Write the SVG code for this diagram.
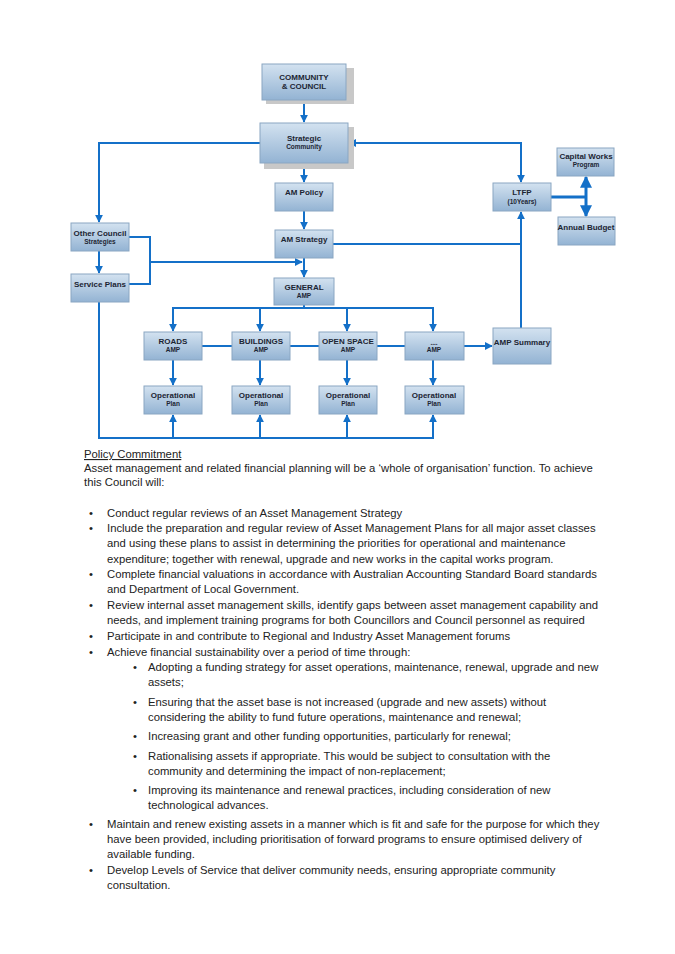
<svg xmlns="http://www.w3.org/2000/svg" width="675" height="954" viewBox="0 0 675 954">
<style>
.n rect.b{fill:url(#g);stroke:#8aa6c2;stroke-width:1}
.n rect.s{fill:#c8c8c8}
.n text{font-family:"Liberation Sans",Arial,sans-serif;font-weight:bold;fill:#1c2533;text-anchor:middle}
.t1{font-size:8px}.t2{font-size:6.5px}
#conn path{fill:none;stroke:#1470c8;stroke-width:2}
.p{font-family:"Liberation Sans",Arial,sans-serif;font-size:11.3px;fill:#222}
</style>
<defs>
<linearGradient id="g" x1="0" y1="0" x2="0" y2="1"><stop offset="0" stop-color="#d3e2f0"/><stop offset="1" stop-color="#93b3d3"/></linearGradient>
<marker id="a" viewBox="0 0 10 10" refX="9" refY="5" markerWidth="4" markerHeight="4" orient="auto-start-reverse"><path d="M0,0L10,5L0,10z" fill="#1470c8"/></marker>
</defs>
<rect width="675" height="954" fill="#fff"/>
<g id="conn">
<path d="M304,100V122" marker-end="url(#a)"/>
<path d="M261,143H99V222" marker-end="url(#a)"/>
<path d="M349,143H521V182" marker-start="url(#a)" marker-end="url(#a)"/>
<path d="M304,167V182" marker-end="url(#a)"/>
<path d="M304,211V229" marker-end="url(#a)"/>
<path d="M304,258V277" marker-end="url(#a)"/>
<path d="M333,244H521"/>
<path d="M521,328V212" marker-end="url(#a)"/>
<path d="M551,197H586" style="stroke-width:3"/>
<path d="M586,197V177" marker-end="url(#a)" style="stroke-width:3"/>
<path d="M586,197V216" marker-end="url(#a)" style="stroke-width:3"/>
<path d="M129,237H150V284H129"/>
<path d="M150,262H302" marker-end="url(#a)"/>
<path d="M99,251V273" marker-end="url(#a)"/>
<path d="M304,305V308H173V331" marker-end="url(#a)"/>
<path d="M304,308H433V331" marker-end="url(#a)"/>
<path d="M260,308V331" marker-end="url(#a)"/>
<path d="M347,308V331" marker-end="url(#a)"/>
<path d="M202,346H464"/>
<path d="M464,346H492" marker-end="url(#a)"/>
<path d="M173,360V385" marker-end="url(#a)"/>
<path d="M260,360V385" marker-end="url(#a)"/>
<path d="M347,360V385" marker-end="url(#a)"/>
<path d="M433,360V385" marker-end="url(#a)"/>
<path d="M99,302V438H433V415" marker-end="url(#a)"/>
<path d="M173,438V415" marker-end="url(#a)"/>
<path d="M260,438V415" marker-end="url(#a)"/>
<path d="M347,438V415" marker-end="url(#a)"/>
</g>
<g id="community" class="n"><rect class="s" x="266" y="68" width="88" height="36"/><rect class="b" x="262" y="64" width="84" height="36"/><text class="t1" x="304" y="80">COMMUNITY</text><text class="t1" x="304" y="89">&amp; COUNCIL</text></g>
<g id="strategic" class="n"><rect class="s" x="264" y="127" width="90" height="42"/><rect class="b" x="260" y="123" width="88" height="40"/><text class="t1" x="304" y="141">Strategic</text><text class="t2" x="304" y="149">Community</text></g>
<g id="ampolicy" class="n"><rect class="b" x="275" y="183" width="58" height="28"/><text class="t1" x="304" y="195">AM Policy</text></g>
<g id="amstrategy" class="n"><rect class="b" x="275" y="230" width="58" height="28"/><text class="t1" x="304" y="242">AM Strategy</text></g>
<g id="general" class="n"><rect class="b" x="274" y="278" width="60" height="27"/><text class="t1" x="304" y="290">GENERAL</text><text class="t2" x="304" y="298">AMP</text></g>
<g id="other" class="n"><rect class="b" x="71" y="223" width="58" height="28"/><text class="t1" x="100" y="236">Other Council</text><text class="t2" x="100" y="244">Strategies</text></g>
<g id="service" class="n"><rect class="b" x="71" y="274" width="58" height="28"/><text class="t1" x="100" y="287">Service Plans</text></g>
<g id="ltfp" class="n"><rect class="b" x="493" y="183" width="58" height="28"/><text class="t1" x="522" y="195">LTFP</text><text class="t2" x="522" y="204">(10Years)</text></g>
<g id="capital" class="n"><rect class="b" x="557" y="148" width="57" height="28"/><text class="t1" x="586" y="159">Capital Works</text><text class="t2" x="586" y="167">Program</text></g>
<g id="budget" class="n"><rect class="b" x="558" y="217" width="57" height="28"/><text class="t1" x="586" y="230">Annual Budget</text></g>
<g id="summary" class="n"><rect class="b" x="493" y="328" width="58" height="36"/><text class="t1" x="522" y="345">AMP Summary</text></g>
<g id="roads" class="n"><rect class="b" x="144" y="332" width="58" height="28"/><text class="t1" x="173" y="344">ROADS</text><text class="t2" x="173" y="352">AMP</text></g>
<g id="buildings" class="n"><rect class="b" x="232" y="332" width="58" height="28"/><text class="t1" x="261" y="344">BUILDINGS</text><text class="t2" x="261" y="352">AMP</text></g>
<g id="openspace" class="n"><rect class="b" x="319" y="332" width="58" height="28"/><text class="t1" x="348" y="344">OPEN SPACE</text><text class="t2" x="348" y="352">AMP</text></g>
<g id="otheramp" class="n"><rect class="b" x="405" y="332" width="59" height="28"/><text class="t2" x="434" y="345">....</text><text class="t2" x="434" y="352">AMP</text></g>
<g id="op1" class="n"><rect class="b" x="144" y="386" width="58" height="28"/><text class="t1" x="173" y="398">Operational</text><text class="t2" x="173" y="406">Plan</text></g>
<g id="op2" class="n"><rect class="b" x="232" y="386" width="58" height="28"/><text class="t1" x="261" y="398">Operational</text><text class="t2" x="261" y="406">Plan</text></g>
<g id="op3" class="n"><rect class="b" x="319" y="386" width="58" height="28"/><text class="t1" x="348" y="398">Operational</text><text class="t2" x="348" y="406">Plan</text></g>
<g id="op4" class="n"><rect class="b" x="405" y="386" width="59" height="28"/><text class="t1" x="434" y="398">Operational</text><text class="t2" x="434" y="406">Plan</text></g>
<g class="p">
<text x="84" y="458" text-decoration="underline">Policy Commitment</text>
<text x="84" y="472">Asset management and related financial planning will be a ‘whole of organisation’ function. To achieve</text>
<text x="84" y="486">this Council will:</text>
<g>
<text x="89" y="517">•</text><text x="107" y="517">Conduct regular reviews of an Asset Management Strategy</text>
<text x="89" y="532">•</text><text x="107" y="532">Include the preparation and regular review of Asset Management Plans for all major asset classes</text>
<text x="107" y="547">and using these plans to assist in determining the priorities for operational and maintenance</text>
<text x="107" y="563">expenditure; together with renewal, upgrade and new works in the capital works program.</text>
<text x="89" y="578">•</text><text x="107" y="578">Complete financial valuations in accordance with Australian Accounting Standard Board standards</text>
<text x="107" y="593">and Department of Local Government.</text>
<text x="89" y="609">•</text><text x="107" y="609">Review internal asset management skills, identify gaps between asset management capability and</text>
<text x="107" y="624">needs, and implement training programs for both Councillors and Council personnel as required</text>
<text x="89" y="640">•</text><text x="107" y="640">Participate in and contribute to Regional and Industry Asset Management forums</text>
<text x="89" y="656">•</text><text x="107" y="656">Achieve financial sustainability over a period of time through:</text>
<text x="133" y="671">•</text><text x="148" y="671">Adopting a funding strategy for asset operations, maintenance, renewal, upgrade and new</text>
<text x="148" y="686">assets;</text>
<text x="133" y="706">•</text><text x="148" y="706">Ensuring that the asset base is not increased (upgrade and new assets) without</text>
<text x="148" y="721">considering the ability to fund future operations, maintenance and renewal;</text>
<text x="133" y="740">•</text><text x="148" y="740">Increasing grant and other funding opportunities, particularly for renewal;</text>
<text x="133" y="760">•</text><text x="148" y="760">Rationalising assets if appropriate. This would be subject to consultation with the</text>
<text x="148" y="775">community and determining the impact of non-replacement;</text>
<text x="133" y="794">•</text><text x="148" y="794">Improving its maintenance and renewal practices, including consideration of new</text>
<text x="148" y="809">technological advances.</text>
<text x="89" y="828">•</text><text x="107" y="828">Maintain and renew existing assets in a manner which is fit and safe for the purpose for which they</text>
<text x="107" y="843">have been provided, including prioritisation of forward programs to ensure optimised delivery of</text>
<text x="107" y="858">available funding.</text>
<text x="89" y="874">•</text><text x="107" y="874">Develop Levels of Service that deliver community needs, ensuring appropriate community</text>
<text x="107" y="889">consultation.</text>
</g>
</g>
</svg>
